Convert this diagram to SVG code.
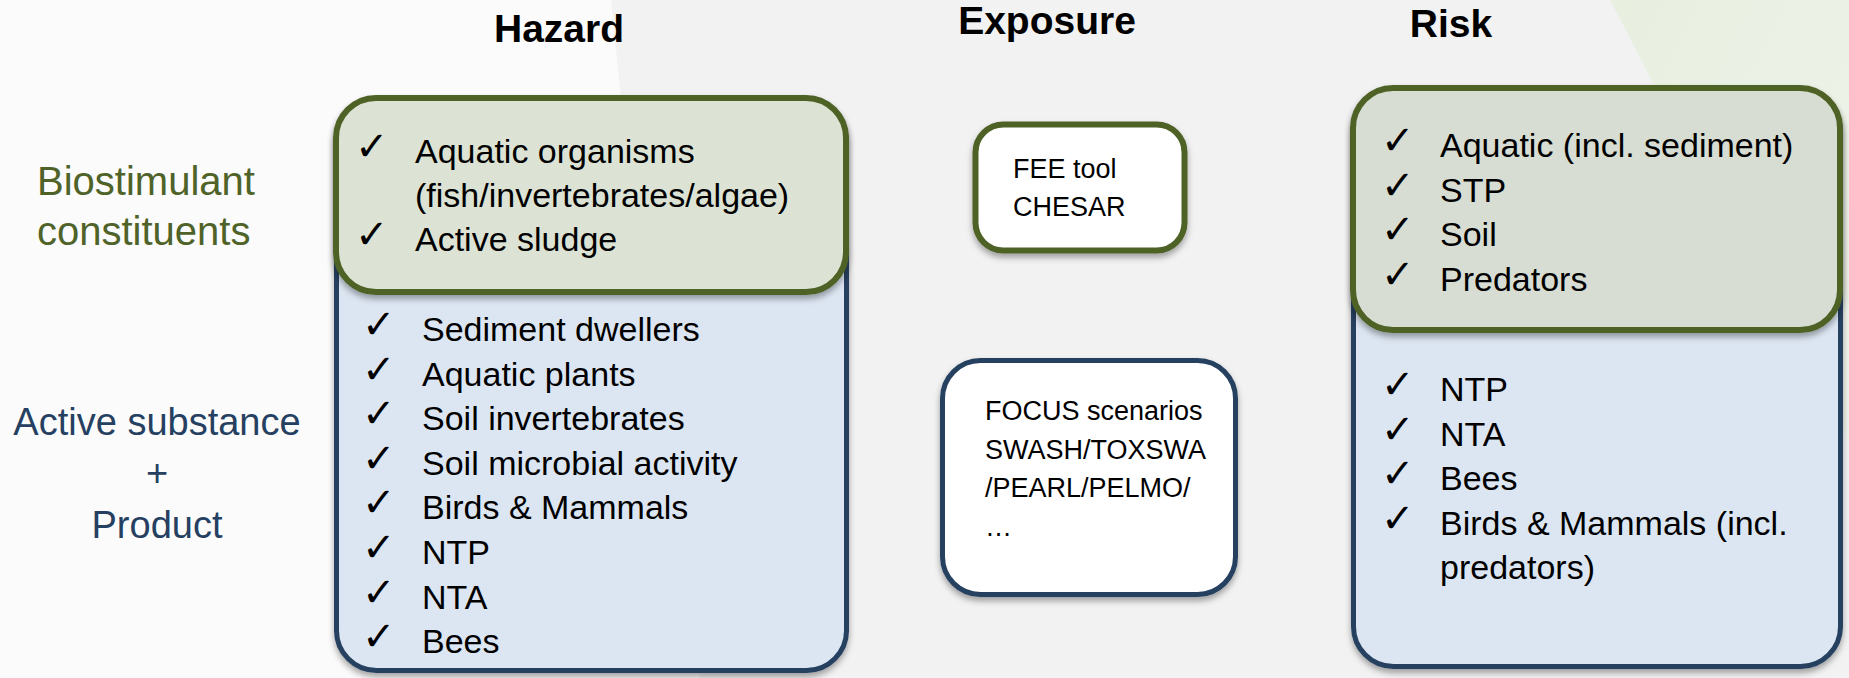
<svg xmlns="http://www.w3.org/2000/svg" width="1849" height="678" viewBox="0 0 1849 678">
  <style>
    .title { font-family: "Liberation Sans", Arial, sans-serif; font-weight: bold; font-size: 39px; fill: #000; text-anchor: middle; }
    .item { font-family: "Liberation Sans", Arial, sans-serif; font-size: 34px; fill: #000; }
    .chk { font-family: "DejaVu Sans", sans-serif; font-size: 40px; fill: #000; }
    .expo { font-family: "Liberation Sans", Arial, sans-serif; font-size: 27px; fill: #000; }
    .lblg { font-family: "Liberation Sans", Arial, sans-serif; font-size: 40px; fill: #4f6228; }
    .lblb { font-family: "Liberation Sans", Arial, sans-serif; font-size: 38px; fill: #254061; text-anchor: middle; }
    .gbox { stroke: #4f6228; stroke-width: 6; }
    .bbox { fill: #dce6f2; stroke: #254061; stroke-width: 5; }
  </style>
  <defs>
    <filter id="sh" x="-10%" y="-10%" width="120%" height="125%">
      <feDropShadow dx="0" dy="4" stdDeviation="3" flood-color="#000" flood-opacity="0.35"/>
    </filter>
    <linearGradient id="gsw" x1="0" y1="0" x2="1" y2="1">
      <stop offset="0" stop-color="#e8efdf"/>
      <stop offset="1" stop-color="#f0f3ec"/>
    </linearGradient>
  </defs>

  <!-- background -->
  <rect x="0" y="0" width="1849" height="678" fill="#f2f2f2"/>
  <path d="M0,0 L611,0 Q640,300 700,678 L0,678 Z" fill="#fbfbfb"/>
  <path d="M1610,0 L1849,0 L1849,440 C1770,330 1690,150 1610,0 Z" fill="url(#gsw)"/>

  <!-- titles -->
  <text class="title" x="559" y="42">Hazard</text>
  <text class="title" x="1047" y="34">Exposure</text>
  <text class="title" x="1451" y="37">Risk</text>

  <!-- row labels -->
  <g id="label-biostimulant">
    <text class="lblg" x="37" y="195">Biostimulant</text>
    <text class="lblg" x="37" y="245">constituents</text>
  </g>
  <g id="label-active">
    <text class="lblb" x="157" y="435">Active substance</text>
    <text class="lblb" x="157" y="486">+</text>
    <text class="lblb" x="157" y="538">Product</text>
  </g>

  <!-- Hazard -->
  <g id="hazard-active">
    <rect class="bbox" x="336.5" y="102" width="510" height="568.5" rx="40" filter="url(#sh)"/>
    <text class="chk" x="362" y="338">✓</text><text class="item" x="422" y="341">Sediment dwellers</text>
    <text class="chk" x="362" y="383">✓</text><text class="item" x="422" y="385.6">Aquatic plants</text>
    <text class="chk" x="362" y="427">✓</text><text class="item" x="422" y="430.2">Soil invertebrates</text>
    <text class="chk" x="362" y="472">✓</text><text class="item" x="422" y="474.8">Soil microbial activity</text>
    <text class="chk" x="362" y="516">✓</text><text class="item" x="422" y="519.4">Birds &amp; Mammals</text>
    <text class="chk" x="362" y="561">✓</text><text class="item" x="422" y="564">NTP</text>
    <text class="chk" x="362" y="606">✓</text><text class="item" x="422" y="608.6">NTA</text>
    <text class="chk" x="362" y="650">✓</text><text class="item" x="422" y="653.2">Bees</text>
  </g>
  <g id="hazard-biostimulant">
    <rect class="gbox" fill="#dce3d4" x="336" y="98" width="510" height="194" rx="40" filter="url(#sh)"/>
    <text class="chk" x="355" y="160">✓</text><text class="item" x="415" y="163">Aquatic organisms</text>
    <text class="item" x="415" y="207">(fish/invertebrates/algae)</text>
    <text class="chk" x="355" y="248">✓</text><text class="item" x="415" y="251">Active sludge</text>
  </g>

  <!-- Exposure -->
  <g id="exposure-fee">
    <rect class="gbox" fill="#ffffff" x="975.5" y="124.5" width="209" height="126" rx="28" stroke-width="5" filter="url(#sh)"/>
    <text class="expo" x="1013" y="178">FEE tool</text>
    <text class="expo" x="1013" y="216">CHESAR</text>
  </g>
  <g id="exposure-focus">
    <rect fill="#ffffff" stroke="#254061" stroke-width="5" x="942.5" y="360.5" width="293" height="234" rx="38" filter="url(#sh)"/>
    <text class="expo" x="985" y="420">FOCUS scenarios</text>
    <text class="expo" x="985" y="458.5">SWASH/TOXSWA</text>
    <text class="expo" x="985" y="497">/PEARL/PELMO/</text>
    <text class="expo" x="985" y="535.5">…</text>
  </g>

  <!-- Risk -->
  <g id="risk-active">
    <rect class="bbox" x="1353.5" y="92" width="487" height="574.5" rx="40" filter="url(#sh)"/>
    <text class="chk" x="1381" y="398">✓</text><text class="item" x="1440" y="401">NTP</text>
    <text class="chk" x="1381" y="443">✓</text><text class="item" x="1440" y="445.5">NTA</text>
    <text class="chk" x="1381" y="487">✓</text><text class="item" x="1440" y="490">Bees</text>
    <text class="chk" x="1381" y="532">✓</text><text class="item" x="1440" y="534.5">Birds &amp; Mammals (incl.</text>
    <text class="item" x="1440" y="579">predators)</text>
  </g>
  <g id="risk-biostimulant">
    <rect class="gbox" fill="#d7ddd2" x="1353" y="88" width="487" height="242" rx="40" filter="url(#sh)"/>
    <text class="chk" x="1381" y="154">✓</text><text class="item" x="1440" y="157">Aquatic (incl. sediment)</text>
    <text class="chk" x="1381" y="199">✓</text><text class="item" x="1440" y="201.5">STP</text>
    <text class="chk" x="1381" y="243">✓</text><text class="item" x="1440" y="246">Soil</text>
    <text class="chk" x="1381" y="288">✓</text><text class="item" x="1440" y="290.5">Predators</text>
  </g>

  <g id="connectors"></g>
</svg>
